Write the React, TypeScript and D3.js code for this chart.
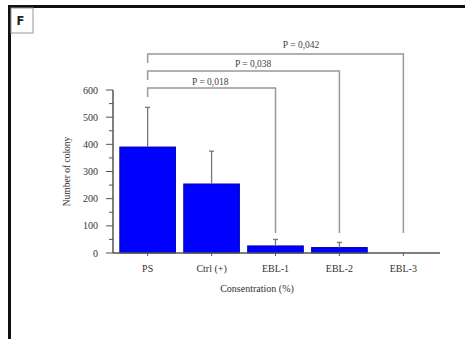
import React from "react";
import * as d3 from "d3";

const categories = ["PS", "Ctrl (+)", "EBL-1", "EBL-2", "EBL-3"];
const means = [390, 254, 26, 20, 0];
const errors = [146, 121, 24, 19, 0];
const yTicks = [0, 100, 200, 300, 400, 500, 600];
const brackets = [
  { from: "PS", to: "EBL-1", label: "P = 0,018", frac: 0.49 },
  { from: "PS", to: "EBL-2", label: "P = 0,038", frac: 0.55 },
  { from: "PS", to: "EBL-3", label: "P = 0,042", frac: 0.6 },
];

const W = 465;
const H = 339;

export default function App() {
  const x = d3.scaleBand<string>().domain(categories).range([116, 435]).paddingInner(0.13).paddingOuter(0.06);
  const y = d3.scaleLinear().domain([0, 600]).range([253, 90]);
  const cx = (c: string) => (x(c) as number) + x.bandwidth() / 2;
  const minor = d3.range(0, 601, 50);
  const serif = "'Liberation Serif', 'Times New Roman', serif";
  const bracketY = [88, 71, 54];
  const labelY = [85, 67, 48];
  const rightEnd = 233;

  return (
    <svg width={W} height={H} style={{ position: "absolute", left: 0, top: 0, background: "#fff" }}>
      <rect x={0} y={0} width={W} height={H} fill="#fff" />
      {/* outer frame */}
      <rect x={9.5} y={6.5} width={W + 20} height={H + 20} fill="none" stroke="#111" strokeWidth={3} />
      {/* F box */}
      <rect x={11} y={8} width={22} height={25} fill="#fff" stroke="#999" strokeWidth={1} />
      <text x={16.5} y={25} fontFamily="'DejaVu Sans', sans-serif" fontWeight="bold" fontSize={11.5} fill="#222">F</text>

      {/* y axis */}
      <line x1={113} x2={113} y1={y(600)} y2={y(0)} stroke="#555" strokeWidth={1.5} />
      {minor.map((v) => (
        <line key={"m" + v} x1={v % 100 === 0 ? 106 : 109} x2={113} y1={y(v)} y2={y(v)} stroke="#555" strokeWidth={1} />
      ))}
      {yTicks.map((v) => (
        <text key={"t" + v} x={98} y={y(v) + 3.5} textAnchor="end" fontFamily={serif} fontSize={10} fill="#333">{v}</text>
      ))}
      <text transform={`translate(70,${(y(0) + y(600)) / 2}) rotate(-90)`} textAnchor="middle" fontFamily={serif} fontSize={9.5} fill="#333">Number of colony</text>

      {/* bars */}
      {categories.map((c, i) => (
        <rect key={"b" + c} x={x(c)} y={y(means[i])} width={x.bandwidth()} height={y(0) - y(means[i])} fill="#0000ff" stroke="#0000b0" strokeWidth={1} />
      ))}
      {/* error bars */}
      {categories.map((c, i) =>
        errors[i] > 0 ? (
          <g key={"e" + c} stroke="#777" strokeWidth={1.3}>
            <line x1={cx(c)} x2={cx(c)} y1={y(means[i])} y2={y(means[i] + errors[i])} />
            <line x1={cx(c) - 2.5} x2={cx(c) + 2.5} y1={y(means[i] + errors[i])} y2={y(means[i] + errors[i])} />
          </g>
        ) : null
      )}

      {/* x axis */}
      <line x1={113} x2={440} y1={y(0)} y2={y(0)} stroke="#555" strokeWidth={1.5} />
      {categories.map((c) => (
        <line key={"xt" + c} x1={cx(c)} x2={cx(c)} y1={y(0)} y2={y(0) + 3} stroke="#555" strokeWidth={1} />
      ))}
      {categories.map((c) => (
        <text key={"xl" + c} x={cx(c)} y={272} textAnchor="middle" fontFamily={serif} fontSize={10} fill="#333">{c}</text>
      ))}
      <text x={257} y={292} textAnchor="middle" fontFamily={serif} fontSize={10} fill="#333">Consentration (%)</text>

      {/* brackets */}
      {brackets.map((b, i) => {
        const x1 = cx(b.from);
        const x2 = cx(b.to);
        const by = bracketY[i];
        return (
          <g key={"br" + i}>
            <path d={`M${x1},${by + 9}V${by}H${x2}V${rightEnd}`} fill="none" stroke="#999" strokeWidth={1.5} />
            <text x={x1 + (x2 - x1) * b.frac} y={labelY[i]} textAnchor="middle" fontFamily={serif} fontSize={9.5} fill="#444">{b.label}</text>
          </g>
        );
      })}
    </svg>
  );
}
